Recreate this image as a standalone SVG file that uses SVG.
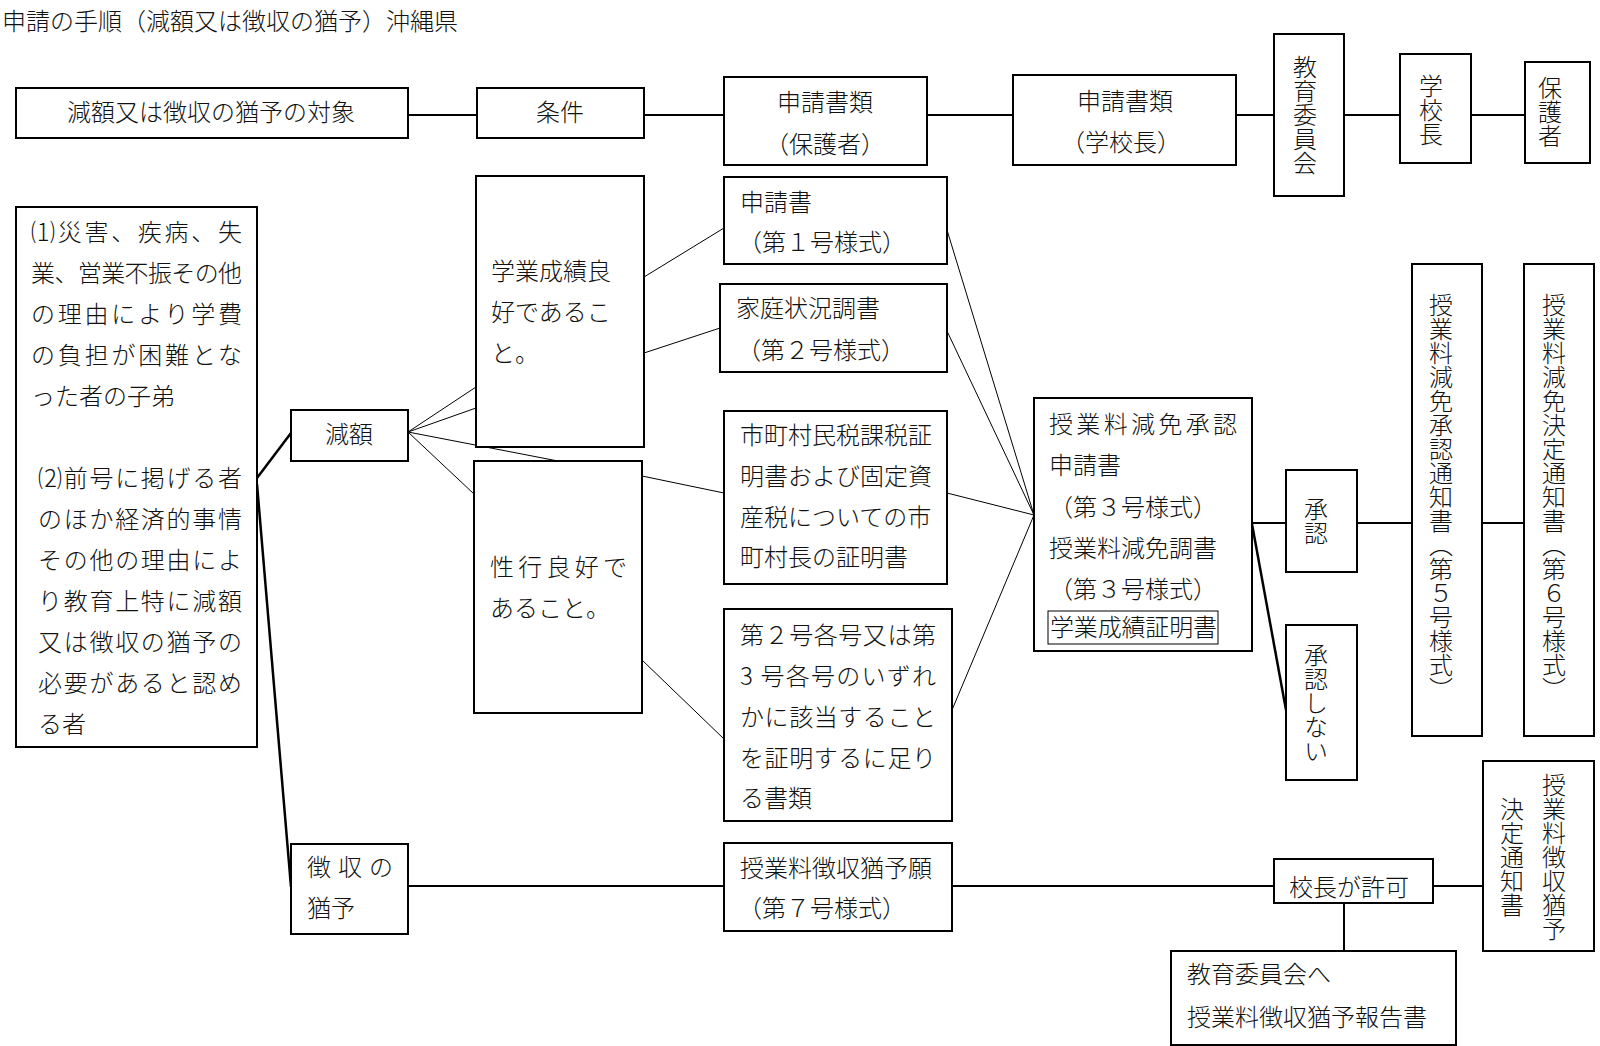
<svg xmlns="http://www.w3.org/2000/svg" width="1600" height="1046" viewBox="0 0 1600 1046">
<style>
.bx{fill:#fff;stroke:#000;stroke-width:2}
.ib{fill:none;stroke:#000;stroke-width:1}
.t{font-family:"Noto Sans CJK JP","Noto Sans CJK SC",sans-serif;font-size:24px;font-weight:300;fill:#111}
.m{text-anchor:middle}
.v{writing-mode:vertical-rl;text-anchor:middle}
.c{stroke:#000;stroke-width:2;fill:none}
.th{stroke:#000;stroke-width:1;fill:none}
.bd{stroke:#000;stroke-width:2.5;fill:none}
</style>
<rect width="1600" height="1046" fill="#fff"/>
<text class="t" x="2" y="30">申請の手順（減額又は徴収の猶予）沖縄県</text>
<g id="connectors">
<line class="c" x1="408" y1="115" x2="477" y2="115"/>
<line class="c" x1="644" y1="115" x2="724" y2="115"/>
<line class="c" x1="927" y1="115" x2="1013" y2="115"/>
<line class="c" x1="1236" y1="115" x2="1274" y2="115"/>
<line class="c" x1="1344" y1="115" x2="1400" y2="115"/>
<line class="c" x1="1471" y1="115" x2="1525" y2="115"/>
<line class="bd" x1="257" y1="478" x2="291" y2="433"/>
<line class="bd" x1="257" y1="484" x2="291" y2="887"/>
<line class="th" x1="408" y1="432" x2="476" y2="387"/>
<line class="th" x1="408" y1="432" x2="476" y2="408"/>
<line class="th" x1="408" y1="432" x2="558" y2="461"/>
<line class="th" x1="408" y1="432" x2="474" y2="494"/>
<line class="th" x1="644" y1="277" x2="724" y2="228"/>
<line class="th" x1="644" y1="353" x2="720" y2="328"/>
<line class="th" x1="642" y1="476" x2="724" y2="493"/>
<line class="th" x1="642" y1="660" x2="724" y2="739"/>
<line class="th" x1="947" y1="230" x2="1034" y2="515"/>
<line class="th" x1="947" y1="331" x2="1034" y2="515"/>
<line class="th" x1="947" y1="493" x2="1034" y2="515"/>
<line class="th" x1="952" y1="710" x2="1034" y2="515"/>
<line class="c" x1="1252" y1="523" x2="1286" y2="523"/>
<line class="bd" x1="1252" y1="524" x2="1286" y2="710"/>
<line class="c" x1="1357" y1="523" x2="1412" y2="523"/>
<line class="c" x1="1482" y1="523" x2="1524" y2="523"/>
<line class="c" x1="408" y1="886" x2="724" y2="886"/>
<line class="c" x1="952" y1="886" x2="1274" y2="886"/>
<line class="c" x1="1433" y1="886" x2="1483" y2="886"/>
<line class="c" x1="1344" y1="903" x2="1344" y2="951"/>
</g>
<g id="n-taisho"><rect class="bx" x="16" y="88" width="392" height="50"/><text class="t m" x="211" y="121">減額又は徴収の猶予の対象</text></g>
<g id="n-joken"><rect class="bx" x="477" y="88" width="167" height="50"/><text class="t m" x="560" y="121">条件</text></g>
<g id="n-shinsei-hogosha"><rect class="bx" x="724" y="77" width="203" height="88"/><text class="t m" x="825" y="111">申請書類</text><text class="t m" x="825" y="153">（保護者）</text></g>
<g id="n-shinsei-kocho"><rect class="bx" x="1013" y="75" width="223" height="90"/><text class="t m" x="1125" y="110">申請書類</text><text class="t m" x="1121" y="151">（学校長）</text></g>
<g id="n-kyoiku"><rect class="bx" x="1274" y="34" width="70" height="162"/><text class="t v" x="1305" y="115">教育委員会</text></g>
<g id="n-gakkocho"><rect class="bx" x="1400" y="54" width="71" height="109"/><text class="t v" x="1431" y="110">学校長</text></g>
<g id="n-hogosha"><rect class="bx" x="1525" y="62" width="65" height="101"/><text class="t v" x="1550" y="112">保護者</text></g>
<g id="n-taishosha">
<rect class="bx" x="16" y="207" width="241" height="540"/>
<text class="t" x="31" y="241" textLength="211" lengthAdjust="spacing">⑴災害、疾病、失</text>
<text class="t" x="31" y="282" textLength="211" lengthAdjust="spacing">業、営業不振その他</text>
<text class="t" x="31" y="323" textLength="211" lengthAdjust="spacing">の理由により学費</text>
<text class="t" x="31" y="364" textLength="211" lengthAdjust="spacing">の負担が困難とな</text>
<text class="t" x="31" y="405">った者の子弟</text>
<text class="t" x="38" y="487" textLength="204" lengthAdjust="spacing">⑵前号に掲げる者</text>
<text class="t" x="38" y="528" textLength="204" lengthAdjust="spacing">のほか経済的事情</text>
<text class="t" x="38" y="569" textLength="204" lengthAdjust="spacing">その他の理由によ</text>
<text class="t" x="38" y="610" textLength="204" lengthAdjust="spacing">り教育上特に減額</text>
<text class="t" x="38" y="651" textLength="204" lengthAdjust="spacing">又は徴収の猶予の</text>
<text class="t" x="38" y="692" textLength="204" lengthAdjust="spacing">必要があると認め</text>
<text class="t" x="38" y="733">る者</text>
</g>
<g id="n-gengaku"><rect class="bx" x="291" y="410" width="117" height="51"/><text class="t m" x="349" y="443">減額</text></g>
<g id="n-choshu"><rect class="bx" x="291" y="844" width="117" height="90"/><text class="t" x="307" y="876" textLength="86" lengthAdjust="spacing">徴収の</text><text class="t" x="307" y="917">猶予</text></g>
<g id="n-gakugyo"><rect class="bx" x="476" y="176" width="168" height="271"/><text class="t" x="491" y="280">学業成績良</text><text class="t" x="491" y="321">好であるこ</text><text class="t" x="491" y="362">と。</text></g>
<g id="n-seiko"><rect class="bx" x="474" y="461" width="168" height="252"/><text class="t" x="490" y="576" textLength="137" lengthAdjust="spacing">性行良好で</text><text class="t" x="490" y="617">あること。</text></g>
<g id="n-shinseisho"><rect class="bx" x="724" y="177" width="223" height="87"/><text class="t" x="740" y="211">申請書</text><text class="t" x="738" y="251">（第１号様式）</text></g>
<g id="n-katei"><rect class="bx" x="720" y="284" width="227" height="88"/><text class="t" x="736" y="317">家庭状況調書</text><text class="t" x="737" y="359">（第２号様式）</text></g>
<g id="n-shomei"><rect class="bx" x="724" y="411" width="223" height="173"/><text class="t" x="740" y="444">市町村民税課税証</text><text class="t" x="740" y="485">明書および固定資</text><text class="t" x="740" y="526">産税についての市</text><text class="t" x="740" y="566">町村長の証明書</text></g>
<g id="n-shorui"><rect class="bx" x="724" y="609" width="228" height="212"/><text class="t" x="740" y="644" textLength="196" lengthAdjust="spacing">第２号各号又は第</text><text class="t" x="740" y="685" textLength="196" lengthAdjust="spacing">3 号各号のいずれ</text><text class="t" x="740" y="726" textLength="196" lengthAdjust="spacing">かに該当すること</text><text class="t" x="740" y="767" textLength="196" lengthAdjust="spacing">を証明するに足り</text><text class="t" x="740" y="807">る書類</text></g>
<g id="n-yuyonegai"><rect class="bx" x="724" y="843" width="228" height="88"/><text class="t" x="740" y="877">授業料徴収猶予願</text><text class="t" x="738" y="917">（第７号様式）</text></g>
<g id="n-genmen"><rect class="bx" x="1034" y="398" width="218" height="253"/>
<text class="t" x="1049" y="433" textLength="188" lengthAdjust="spacing">授業料減免承認</text>
<text class="t" x="1049" y="474">申請書</text>
<text class="t" x="1049" y="516">（第３号様式）</text>
<text class="t" x="1049" y="557">授業料減免調書</text>
<text class="t" x="1049" y="598">（第３号様式）</text>
<rect class="ib" x="1048" y="611" width="170" height="33"/>
<text class="t" x="1050" y="636" textLength="167" lengthAdjust="spacing">学業成績証明書</text></g>
<g id="n-shonin"><rect class="bx" x="1286" y="470" width="71" height="102"/><text class="t v" x="1316" y="521">承認</text></g>
<g id="n-shoninshinai"><rect class="bx" x="1286" y="625" width="71" height="155"/><text class="t v" x="1316" y="703">承認しない</text></g>
<g id="n-tsuchi5"><rect class="bx" x="1412" y="264" width="70" height="472"/><text class="t v" x="1441" y="497">授業料減免承認通知書（第５号様式）</text></g>
<g id="n-tsuchi6"><rect class="bx" x="1524" y="264" width="70" height="472"/><text class="t v" x="1554" y="497">授業料減免決定通知書（第６号様式）</text></g>
<g id="n-yuyotsuchi"><rect class="bx" x="1483" y="761" width="111" height="190"/><text class="t v" x="1554" y="857">授業料徴収猶予</text><text class="t v" x="1512" y="857">決定通知書</text></g>
<g id="n-kocho"><rect class="bx" x="1274" y="859" width="159" height="44"/><text class="t m" x="1349" y="896">校長が許可</text></g>
<g id="n-hokoku"><rect class="bx" x="1171" y="951" width="285" height="94"/><text class="t" x="1187" y="983">教育委員会へ</text><text class="t" x="1187" y="1026">授業料徴収猶予報告書</text></g>
</svg>
